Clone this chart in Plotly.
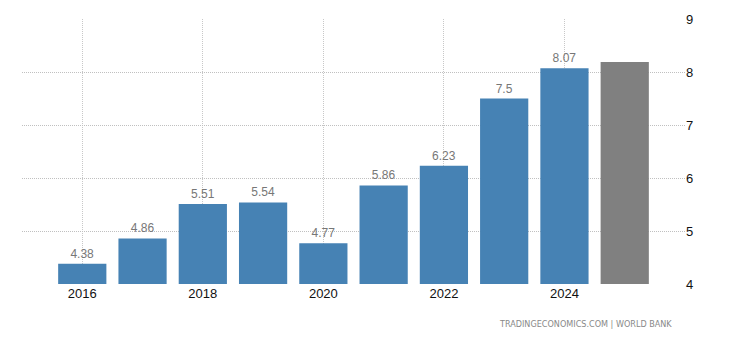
import plotly.graph_objects as go

years = [2016, 2017, 2018, 2019, 2020, 2021, 2022, 2023, 2024]
values = [4.38, 4.86, 5.51, 5.54, 4.77, 5.86, 6.23, 7.5, 8.07]
forecast_year = [2025]
forecast_value = [8.19]
tick_years = [2016, 2018, 2020, 2022, 2024]
y_ticks = [4, 5, 6, 7, 8, 9]

fig = go.Figure()
fig.add_trace(go.Bar(
    x=years, y=values, marker_color="#4682B4", marker_line_width=0,
    text=[f"{v:g}" for v in values], textposition="outside",
    textfont=dict(color="#777777", size=12, family="Liberation Sans Narrow, Arial"),
    cliponaxis=False, width=0.8,
))
fig.add_trace(go.Bar(
    x=forecast_year, y=forecast_value, marker_color="#808080",
    marker_line_width=0, width=0.8,
))
fig.update_layout(
    width=730, height=340, showlegend=False,
    paper_bgcolor="white", plot_bgcolor="white",
    margin=dict(l=22, r=45, t=19, b=56),
    font=dict(family="Liberation Sans Narrow, Arial", size=12, color="#111111"),
    xaxis=dict(range=[2015.0, 2026.0], tickvals=tick_years,
               showgrid=True, gridcolor="#c8c8c8", griddash="1px,1px", gridwidth=1,
               zeroline=False, showline=False, ticks="", tickfont=dict(size=13)),
    yaxis=dict(range=[4, 9], tickvals=y_ticks, side="right",
               showgrid=True, gridcolor="#c0c0c0", griddash="1px,1px", gridwidth=1,
               zeroline=False, showline=False, ticks="", tickfont=dict(size=13)),
    annotations=[dict(text="TRADINGECONOMICS.COM | WORLD BANK", xref="paper", yref="paper",
                      x=0.984, y=-0.125, xanchor="right", yanchor="top", showarrow=False,
                      font=dict(size=9, color="#888888", family="DejaVu Sans Condensed, DejaVu Sans"))],
)
fig.write_html("out.html")
